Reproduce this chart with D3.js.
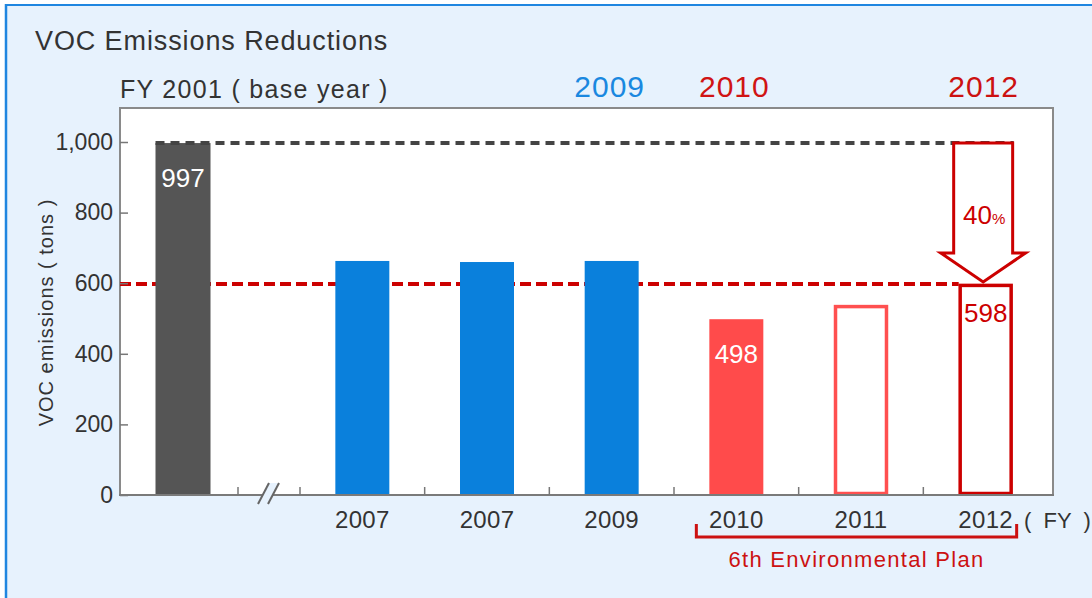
<!DOCTYPE html>
<html><head><meta charset="utf-8">
<script src="https://cdn.jsdelivr.net/npm/d3@7"></script>
<style>
body{margin:0;background:#fff}
svg{display:block;font-family:"Liberation Sans",Arial,Helvetica,sans-serif}
</style>
</head><body><svg id="c" width="1092" height="598"></svg>
<script>
// ---------- data ----------
const baseCategory = ["2001"];
const baseValues = [997];
const categories = ["2007a", "2007b", "2009", "2010", "2011", "2012"];
const tickLabels = ["2007", "2007", "2009", "2010", "2011", "2012"];
const values = [663, 660, 663, 498, 538, 598];
const yTicks = [0, 200, 400, 600, 800, 1000];
const highlightYears = ["2009", "2010", "2012"];
const labeledCategories = ["2010", "2012"];
const planCategories = ["2010", "2011", "2012"];
const targetValue = 598;
const reductionText = ["40", "%"];

// ---------- styles ----------
const BG = "#e7f2fd";
const barStyle = {
  "2001": {fill: "#555555"},
  "2007a": {fill: "#0a80dc"},
  "2007b": {fill: "#0a80dc"},
  "2009": {fill: "#0a80dc"},
  "2010": {fill: "#ff4b4b", label: "#ffffff"},
  "2011": {fill: "#ffffff", stroke: "#ff5050"},
  "2012": {fill: "#ffffff", stroke: "#cc0000", label: "#cc0000"}
};
const highlightColor = {"2009": "#1a88e0", "2010": "#d01414", "2012": "#cc1111"};
const TEXT = "#333333";

const svg = d3.select("#c");
const pLeft = 120, pRight = 1053, pTop = 108, pBottom = 495;

// background panel
svg.append("rect").attr("x", 6).attr("y", 5).attr("width", 1092).attr("height", 598).attr("fill", BG);
svg.append("line").attr("x1", 5).attr("x2", 1092).attr("y1", 5).attr("y2", 5).attr("stroke", "#1f86e0").attr("stroke-width", 2);
svg.append("line").attr("x1", 6).attr("x2", 6).attr("y1", 4).attr("y2", 598).attr("stroke", "#1f86e0").attr("stroke-width", 2.5);

// scales
const y = d3.scaleLinear().domain([0, 1000]).range([pBottom, 142]);
const x = d3.scaleBand().domain(categories).range([300, 1048]).paddingInner(0.567).paddingOuter(0.2835);
const xb = d3.scaleBand().domain(baseCategory).range([128, 238]).paddingInner(0.5).paddingOuter(0.25);
const bw = x.bandwidth();
const cx = c => x(c) + bw / 2;

// titles
svg.append("text").attr("x", 35).attr("y", 50).attr("font-size", 27).attr("letter-spacing", 0.9)
  .attr("fill", TEXT).text("VOC Emissions Reductions");
svg.append("text").attr("x", 120).attr("y", 98).attr("font-size", 25).attr("letter-spacing", 1.3)
  .attr("fill", TEXT).attr("xml:space", "preserve").text("FY 2001 ( base year )");

// plot frame
svg.append("rect").attr("x", pLeft).attr("y", pTop).attr("width", pRight - pLeft).attr("height", pBottom - pTop)
  .attr("fill", "#fff").attr("stroke", "#8a8a8a").attr("stroke-width", 2);

// target dashed line (behind bars)
const tgtCat = categories[categories.length - 1];
svg.append("line").attr("x1", pLeft).attr("x2", x(tgtCat)).attr("y1", y(targetValue)).attr("y2", y(targetValue))
  .attr("stroke", "#cc0000").attr("stroke-width", 4).attr("stroke-dasharray", "11,5");

// base bar
svg.append("g").selectAll("rect").data(baseCategory).join("rect")
  .attr("x", d => xb(d)).attr("width", xb.bandwidth())
  .attr("y", (d, i) => y(baseValues[i])).attr("height", (d, i) => pBottom - y(baseValues[i]))
  .attr("fill", d => barStyle[d].fill);

// main bars
const data = categories.map((c, i) => ({c, v: values[i], s: barStyle[c]}));
svg.append("g").selectAll("rect").data(data).join("rect")
  .attr("x", d => d.s.stroke ? x(d.c) + 1.5 : x(d.c))
  .attr("width", d => d.s.stroke ? bw - 3 : bw)
  .attr("y", d => d.s.stroke ? y(d.v) + 1.5 : y(d.v))
  .attr("height", d => d.s.stroke ? pBottom - y(d.v) - 3 : pBottom - y(d.v))
  .attr("fill", d => d.s.fill)
  .attr("stroke", d => d.s.stroke || "none").attr("stroke-width", 3.5);

// base reference dashed line
svg.append("line").attr("x1", xb(baseCategory[0])).attr("x2", x(tgtCat) + bw + 1)
  .attr("y1", y(baseValues[0])).attr("y2", y(baseValues[0]))
  .attr("stroke", "#444").attr("stroke-width", 4).attr("stroke-dasharray", "9,6");

// arrow
const aL = x(tgtCat) - 5, aR = x(tgtCat) + bw, aC = (aL + aR) / 2;
const aTop = y(baseValues[0]), aTip = y(targetValue) - 2, headH = 29, wing = 13;
svg.append("path")
  .attr("d", `M${aL},${aTop}H${aR}V${aTip - headH}H${aR + wing}L${aC},${aTip}L${aL - wing},${aTip - headH}H${aL}Z`)
  .attr("fill", "#fff").attr("stroke", "#cc0000").attr("stroke-width", 3).attr("stroke-linejoin", "miter");
const pct = svg.append("text").attr("x", aC + 1).attr("y", 224).attr("text-anchor", "middle")
  .attr("fill", "#cc0000").attr("font-size", 26);
pct.append("tspan").text(reductionText[0]);
pct.append("tspan").attr("font-size", 15).text(reductionText[1]);

// value labels
svg.append("text").attr("x", xb(baseCategory[0]) + xb.bandwidth() / 2).attr("y", y(baseValues[0]) + 44)
  .attr("text-anchor", "middle").attr("font-size", 26).attr("fill", "#fff").text(baseValues[0]);
svg.append("g").selectAll("text").data(data.filter(d => labeledCategories.includes(d.c))).join("text")
  .attr("x", d => cx(d.c)).attr("y", d => y(d.v) + (d.s.stroke ? 38 : 44))
  .attr("text-anchor", "middle").attr("font-size", 26).attr("fill", d => d.s.label).text(d => d.v);

// highlighted years above plot
svg.append("g").selectAll("text").data(highlightYears).join("text")
  .attr("x", d => cx(d) - 2).attr("y", 97).attr("text-anchor", "middle").attr("font-size", 30)
  .attr("letter-spacing", 1)
  .attr("fill", d => highlightColor[d]).text(d => d);

// y axis
const yAxis = svg.append("g").attr("transform", `translate(${pLeft},0)`)
  .call(d3.axisLeft(y).tickValues(yTicks).tickSize(-8).tickPadding(7).tickFormat(d3.format(",")));
yAxis.select(".domain").remove();
yAxis.selectAll(".tick line").attr("stroke", "#777").attr("stroke-width", 1.5);
yAxis.selectAll(".tick text").attr("font-size", 23).attr("fill", TEXT);
yAxis.attr("font-family", null);
svg.append("text").attr("transform", `translate(53,${(pBottom + 142) / 2 - 6}) rotate(-90)`)
  .attr("text-anchor", "middle").attr("font-size", 20).attr("letter-spacing", 1).attr("fill", TEXT)
  .attr("xml:space", "preserve").text("VOC emissions ( tons )");

// x axis
const baseEdge = xb.range()[1];
const mainEdge = x.range()[0];
const breakX = (baseEdge + mainEdge) / 2;
const ax = svg.append("g");
ax.append("line").attr("x1", pLeft - 1).attr("x2", pRight + 1).attr("y1", pBottom).attr("y2", pBottom)
  .attr("stroke", "#7a7a7a").attr("stroke-width", 2);
const tickXs = [baseEdge].concat(categories.map(c => x(c) - x.paddingInner() * x.step() / 2));
ax.selectAll("line.t").data(tickXs).join("line").attr("class", "t")
  .attr("x1", d => d).attr("x2", d => d).attr("y1", pBottom).attr("y2", pBottom - 8)
  .attr("stroke", "#777").attr("stroke-width", 1.5);
// break mark
ax.append("path").attr("d", `M${breakX - 11},${pBottom + 9}L${breakX - 1},${pBottom - 12}L${breakX + 9},${pBottom - 12}L${breakX - 1},${pBottom + 9}Z`)
  .attr("fill", BG);
ax.selectAll("line.b").data([-6, 4]).join("line").attr("class", "b")
  .attr("x1", d => breakX + d - 5).attr("x2", d => breakX + d + 6)
  .attr("y1", pBottom + 9).attr("y2", pBottom - 12).attr("stroke", "#666").attr("stroke-width", 2);
ax.selectAll("text.xl").data(categories).join("text").attr("class", "xl")
  .attr("x", d => cx(d)).attr("y", 528).attr("text-anchor", "middle").attr("font-size", 24)
  .attr("letter-spacing", 0.3).attr("fill", TEXT).text((d, i) => tickLabels[i]);
svg.append("text").attr("x", 1024).attr("y", 528).attr("font-size", 22).attr("fill", TEXT)
  .attr("xml:space", "preserve").text("(  FY  )");

// plan bracket
const pL = x(planCategories[0]) - 13, pR = x(planCategories[2]) + bw + 4;
svg.append("path").attr("d", `M${pL},524V537H${pR}V524`).attr("fill", "none")
  .attr("stroke", "#cc1111").attr("stroke-width", 3);
svg.append("text").attr("x", (pL + pR) / 2).attr("y", 567).attr("text-anchor", "middle")
  .attr("font-size", 22).attr("letter-spacing", 1.3).attr("fill", "#cc1111").text("6th Environmental Plan");
</script>
</body></html>
